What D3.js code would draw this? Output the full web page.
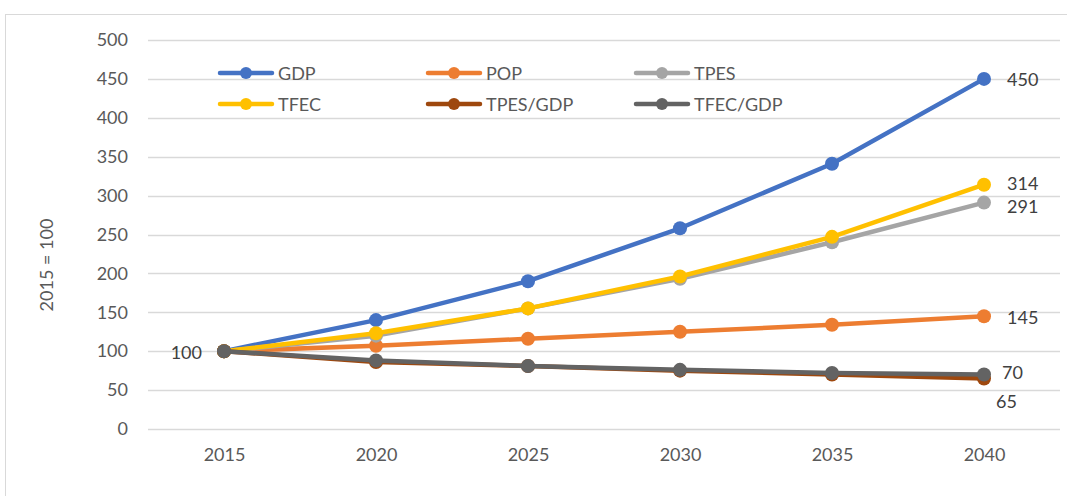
<!DOCTYPE html>
<html>
<head>
<meta charset="utf-8">
<script src="https://cdn.jsdelivr.net/npm/d3@7/dist/d3.min.js"></script>
<style>
  html, body { margin: 0; padding: 0; background: #fff; }
  svg { display: block; font-family: Lato, "Open Sans", "Liberation Sans", sans-serif; }
</style>
</head>
<body>
<svg id="chart" width="1067" height="496"></svg>
<script>
// Index values, 2015 = 100
const years = ["2015", "2020", "2025", "2030", "2035", "2040"];
const gdp      = [100, 140, 190, 258, 341, 450];
const pop      = [100, 107, 116, 125, 134, 145];
const tpes     = [100, 120, 155, 193, 240, 291];
const tfec     = [100, 123, 155, 196, 247, 314];
const tpesGdp  = [100, 86, 81, 75, 70, 65];
const tfecGdp  = [100, 88, 81, 76, 72, 70];
const yTicks   = [0, 50, 100, 150, 200, 250, 300, 350, 400, 450, 500];

const seriesNames  = ["GDP", "POP", "TPES", "TFEC", "TPES/GDP", "TFEC/GDP"];
const seriesValues = [gdp, pop, tpes, tfec, tpesGdp, tfecGdp];
const seriesColors = ["#4472c4", "#ed7d31", "#a5a5a5", "#ffc000", "#9e480e", "#636363"];

const series = seriesNames.map((name, i) => ({ name, values: seriesValues[i], color: seriesColors[i] }));

const svg = d3.select("#chart");
const plotLeft = 148, plotRight = 1060, plotTop = 40, plotBottom = 429;
const fontSize = "18px";

// Chart frame
svg.append("rect")
  .attr("x", 5.5).attr("y", 14.5)
  .attr("width", 1080).attr("height", 500)
  .attr("fill", "none").attr("stroke", "#d9d9d9").attr("stroke-width", 1);

const x = d3.scalePoint().domain(years).range([plotLeft, plotRight]).padding(0.5);
const y = d3.scaleLinear().domain([0, 500]).range([plotBottom, plotTop]);

// Horizontal gridlines
svg.append("g").selectAll("line").data(yTicks).join("line")
  .attr("x1", plotLeft).attr("x2", plotRight)
  .attr("y1", d => Math.round(y(d)) + 0.5).attr("y2", d => Math.round(y(d)) + 0.5)
  .attr("stroke", "#d9d9d9").attr("stroke-width", 1.3);

// Y axis labels
const yAxis = svg.append("g").attr("transform", `translate(${plotLeft - 20},0)`)
  .call(d3.axisLeft(y).tickValues(yTicks).tickSize(0).tickPadding(0));
yAxis.select(".domain").remove();
yAxis.selectAll("text").attr("fill", "#595959").style("font-size", fontSize)
  .style("font-family", "Lato, 'Open Sans', sans-serif");

// X axis labels
const xAxis = svg.append("g").attr("transform", `translate(0,${plotBottom + 19})`)
  .call(d3.axisBottom(x).tickSize(0).tickPadding(0));
xAxis.select(".domain").remove();
xAxis.selectAll("text").attr("fill", "#595959").style("font-size", fontSize)
  .attr("dy", "0.7em")
  .style("font-family", "Lato, 'Open Sans', sans-serif");

// Y axis title
svg.append("text")
  .attr("transform", `translate(53,${265}) rotate(-90)`)
  .attr("text-anchor", "middle")
  .attr("fill", "#595959").style("font-size", fontSize)
  .text("2015 = 100");

// Series lines and markers
const line = d3.line().x((d, i) => x(years[i])).y(d => y(d));
const gSeries = svg.append("g");
series.forEach(s => {
  const g = gSeries.append("g");
  g.append("path").datum(s.values)
    .attr("d", line).attr("fill", "none")
    .attr("stroke", s.color).attr("stroke-width", 4.5)
    .attr("stroke-linejoin", "round").attr("stroke-linecap", "round");
  g.selectAll("circle").data(s.values).join("circle")
    .attr("cx", (d, i) => x(years[i])).attr("cy", d => y(d))
    .attr("r", 7).attr("fill", s.color);
});

// Data labels
const labelStyle = sel => sel.attr("fill", "#404040").style("font-size", fontSize).attr("dominant-baseline", "central");
const last = years.length - 1;
const endLabels = [
  { s: gdp, dx: 23, dy: 0 },
  { s: tfec, dx: 23, dy: -2 },
  { s: tpes, dx: 23, dy: 3 },
  { s: pop, dx: 23, dy: 1 },
  { s: tfecGdp, dx: 18, dy: -3 },
  { s: tpesGdp, dx: 12, dy: 23 }
];
endLabels.forEach(l => {
  svg.append("text").call(labelStyle)
    .attr("x", x(years[last]) + l.dx).attr("y", y(l.s[last]) + l.dy)
    .text(l.s[last]);
});
svg.append("text").call(labelStyle)
  .attr("x", x(years[0]) - 22).attr("y", y(gdp[0]) + 1)
  .attr("text-anchor", "end").text(gdp[0]);

// Legend, two rows of three
const legend = svg.append("g");
const colX = [218, 426, 634];
const rowY = [73, 104];
series.forEach((s, i) => {
  const cx = colX[i % 3], cy = rowY[Math.floor(i / 3)];
  const g = legend.append("g").attr("transform", `translate(${cx},${cy})`);
  g.append("line").attr("x1", 2).attr("x2", 54).attr("y1", 0).attr("y2", 0)
    .attr("stroke", s.color).attr("stroke-width", 4.5).attr("stroke-linecap", "round");
  g.append("circle").attr("cx", 28).attr("cy", 0).attr("r", 6).attr("fill", s.color);
  g.append("text").attr("x", 60).attr("y", 0).attr("dominant-baseline", "central")
    .attr("fill", "#595959").style("font-size", fontSize).text(s.name);
});
</script>
</body>
</html>
